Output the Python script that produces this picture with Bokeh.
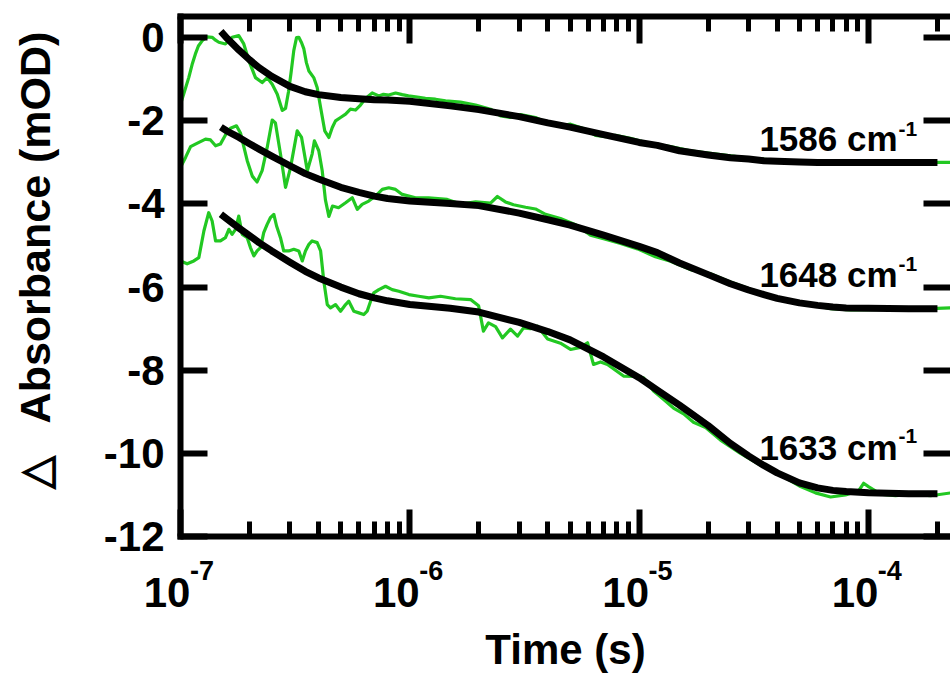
import numpy as np
from bokeh.plotting import figure
from bokeh.models import Range1d, FixedTicker, LogAxis, LinearAxis, Label
from bokeh.embed import file_html
from bokeh.resources import INLINE

# ---------------- data ----------------
# fitted curves (black): common time grid (s)
fit_time = [1.5e-7, 1.6e-7, 1.8e-7, 2e-7, 2.2e-7, 2.5e-7, 3e-7, 3.5e-7, 4e-7, 5e-7,
            6e-7, 7e-7, 8e-7, 1e-6, 1.5e-6, 2e-6, 3e-6, 4e-6, 5e-6, 7e-6,
            1e-5, 1.2e-5, 1.5e-5, 2e-5, 2.5e-5, 3e-5, 3.5e-5, 4e-5, 5e-5, 6e-5,
            7e-5, 8e-5, 1e-4, 1.5e-4, 2e-4]
fit_1586 = [0.15, -0.02, -0.30, -0.53, -0.72, -0.93, -1.17, -1.30, -1.37, -1.44,
            -1.47, -1.49, -1.50, -1.53, -1.64, -1.73, -1.90, -2.05, -2.15, -2.33,
            -2.52, -2.59, -2.72, -2.82, -2.89, -2.92, -2.96, -2.97, -2.99, -3.00,
            -3.00, -3.00, -3.00, -3.00, -3.00]
fit_1648 = [-2.15, -2.25, -2.40, -2.55, -2.68, -2.85, -3.08, -3.27, -3.40, -3.60,
            -3.72, -3.81, -3.87, -3.93, -3.99, -4.04, -4.22, -4.38, -4.51, -4.75,
            -5.02, -5.17, -5.42, -5.70, -5.92, -6.07, -6.18, -6.27, -6.38, -6.44,
            -6.48, -6.50, -6.51, -6.52, -6.52]
fit_1633 = [-4.25, -4.37, -4.58, -4.76, -4.93, -5.13, -5.40, -5.62, -5.78, -6.00,
            -6.16, -6.26, -6.33, -6.42, -6.51, -6.60, -6.85, -7.07, -7.27, -7.68,
            -8.18, -8.48, -8.84, -9.33, -9.76, -10.06, -10.29, -10.47, -10.71, -10.83,
            -10.89, -10.92, -10.95, -10.97, -10.97]

# measured traces (green): log10 of time (s) and absorbance (mOD)
trace_1586_logt = [-7.000, -6.983, -6.964, -6.948, -6.935, -6.922, -6.905, -6.884, -6.862, -6.847,
                   -6.833, -6.804, -6.775, -6.746, -6.724, -6.702, -6.673, -6.644, -6.622, -6.600,
                   -6.578, -6.556, -6.542, -6.529, -6.518, -6.506, -6.494, -6.484, -6.472, -6.462,
                   -6.451, -6.440, -6.419, -6.404, -6.389, -6.371, -6.353, -6.338, -6.324, -6.302,
                   -6.280, -6.259, -6.237, -6.215, -6.193, -6.164, -6.135, -6.115, -6.092, -6.062,
                   -6.033, -6.006, -5.975, -5.932, -5.888, -5.844, -5.779, -5.713, -5.648, -5.604,
                   -5.561, -5.517, -5.452, -5.386, -5.343, -5.299, -5.234, -5.190, -5.147, -5.103,
                   -5.038, -4.951, -4.863, -4.776, -4.689, -4.601, -4.514, -4.427, -4.340, -4.253,
                   -4.165, -4.078, -3.991, -3.904, -3.816, -3.729, -3.640]
trace_1586 = [-1.60, -1.30, -0.96, -0.62, -0.39, -0.20, -0.07, 0.02, 0.01, -0.06,
              -0.11, -0.15, 0.01, 0.05, -0.15, -0.55, -0.96, -1.08, -0.96, -1.12,
              -1.36, -1.75, -1.70, -1.30, -0.85, -0.31, 0.00, 0.01, -0.12, -0.27,
              -0.60, -0.80, -0.96, -1.20, -1.68, -2.24, -2.40, -2.16, -2.00, -1.92,
              -1.84, -1.72, -1.74, -1.62, -1.46, -1.33, -1.40, -1.36, -1.38, -1.33,
              -1.37, -1.40, -1.42, -1.46, -1.48, -1.52, -1.55, -1.62, -1.72, -1.88,
              -1.92, -1.85, -1.92, -2.08, -2.12, -2.08, -2.20, -2.35, -2.38, -2.35,
              -2.42, -2.55, -2.62, -2.72, -2.78, -2.84, -2.90, -2.94, -2.97, -2.99,
              -2.98, -3.01, -3.00, -2.99, -3.01, -3.00, -3.00]

trace_1648_logt = [-7.000, -6.978, -6.956, -6.935, -6.913, -6.891, -6.869, -6.847, -6.826, -6.804,
                   -6.782, -6.756, -6.738, -6.709, -6.687, -6.666, -6.644, -6.622, -6.600, -6.586,
                   -6.564, -6.542, -6.520, -6.491, -6.472, -6.447, -6.426, -6.416, -6.397, -6.382,
                   -6.368, -6.353, -6.337, -6.311, -6.280, -6.251, -6.229, -6.208, -6.179, -6.150,
                   -6.120, -6.092, -6.062, -6.033, -5.975, -5.918, -5.837, -5.779, -5.713, -5.648,
                   -5.618, -5.583, -5.548, -5.495, -5.452, -5.408, -5.343, -5.277, -5.212, -5.147,
                   -5.081, -5.007, -4.929, -4.863, -4.776, -4.689, -4.601, -4.514, -4.427, -4.340,
                   -4.253, -4.165, -4.078, -3.991, -3.904, -3.816, -3.729, -3.640]
trace_1648 = [-3.12, -2.88, -2.62, -2.56, -2.50, -2.44, -2.46, -2.60, -2.56, -2.34,
              -2.18, -2.12, -2.30, -2.96, -3.33, -3.47, -3.20, -2.64, -1.98, -2.05,
              -2.80, -3.60, -3.12, -2.24, -2.40, -3.20, -2.80, -2.48, -2.72, -3.20,
              -3.90, -4.30, -4.05, -4.09, -3.97, -3.85, -4.13, -4.01, -3.93, -3.81,
              -3.65, -3.61, -3.65, -3.77, -3.85, -3.85, -3.89, -4.00, -3.95, -3.98,
              -3.82, -3.95, -4.02, -4.08, -4.12, -4.25, -4.35, -4.50, -4.75, -4.85,
              -4.95, -5.08, -5.27, -5.38, -5.58, -5.68, -5.88, -6.05, -6.20, -6.35,
              -6.42, -6.52, -6.55, -6.54, -6.53, -6.50, -6.52, -6.50]

trace_1633_logt = [-7.000, -6.971, -6.942, -6.920, -6.898, -6.877, -6.862, -6.847, -6.826, -6.804,
                   -6.789, -6.775, -6.760, -6.746, -6.731, -6.709, -6.695, -6.680, -6.666, -6.651,
                   -6.637, -6.622, -6.608, -6.593, -6.581, -6.564, -6.550, -6.528, -6.506, -6.484,
                   -6.469, -6.455, -6.440, -6.426, -6.404, -6.389, -6.375, -6.360, -6.346, -6.324,
                   -6.302, -6.280, -6.266, -6.244, -6.222, -6.201, -6.186, -6.171, -6.157, -6.135,
                   -6.106, -6.077, -6.048, -6.004, -5.961, -5.917, -5.866, -5.801, -5.735, -5.700,
                   -5.679, -5.657, -5.626, -5.596, -5.561, -5.530, -5.504, -5.474, -5.443, -5.399,
                   -5.343, -5.299, -5.256, -5.225, -5.199, -5.168, -5.138, -5.103, -5.068, -5.016,
                   -4.981, -4.937, -4.894, -4.850, -4.806, -4.763, -4.710, -4.645, -4.558, -4.471,
                   -4.383, -4.296, -4.231, -4.165, -4.100, -4.043, -4.021, -4.000, -3.947, -3.882,
                   -3.816, -3.729, -3.640]
trace_1633 = [-5.37, -5.44, -5.37, -5.29, -4.65, -4.21, -4.41, -4.89, -4.89, -4.81,
              -4.61, -4.73, -4.61, -4.29, -4.73, -4.81, -5.05, -5.25, -5.13, -5.05,
              -4.69, -4.49, -4.33, -4.25, -4.53, -4.81, -5.13, -5.13, -5.09, -5.13,
              -5.37, -5.13, -4.97, -4.89, -4.93, -5.13, -5.86, -6.42, -6.50, -6.42,
              -6.58, -6.42, -6.34, -6.58, -6.62, -6.66, -6.58, -6.34, -6.14, -6.06,
              -5.98, -6.06, -6.10, -6.18, -6.22, -6.26, -6.22, -6.28, -6.30, -6.45,
              -7.06, -6.86, -6.95, -7.22, -7.01, -7.18, -6.98, -7.00, -6.94, -7.25,
              -7.35, -7.50, -7.45, -7.34, -7.86, -7.80, -7.86, -8.00, -8.14, -8.15,
              -8.18, -8.50, -8.70, -8.91, -9.05, -9.25, -9.38, -9.68, -10.00, -10.28,
              -10.52, -10.80, -10.95, -11.05, -11.00, -10.90, -10.72, -10.80, -10.98, -11.02,
              -10.98, -11.02, -10.95]

series_labels = ["1586 cm", "1648 cm", "1633 cm"]
y_ticks = [-12, -10, -8, -6, -4, -2, 0]
x_tick_exponents = [-7, -6, -5, -4]
x_title = "Time (s)"
y_title = "Absorbance (mOD)"

# ---------------- figure ----------------
FONT = "Liberation Sans"
GREEN = "#22c822"
NB = "\u00a0"

p = figure(width=950, height=675, x_axis_type="log",
           x_range=Range1d(1e-7, 2.28e-4), y_range=Range1d(-12, 0.51),
           output_backend="svg", toolbar_location=None,
           min_border_left=180, min_border_right=0, min_border_top=16, min_border_bottom=139)
p.outline_line_color = None
p.grid.visible = False
p.background_fill_color = "white"
p.border_fill_color = "white"

x_major = [10.0 ** e for e in x_tick_exponents]
x_minor = [k * 10.0 ** e for e in x_tick_exponents for k in range(2, 10)]


def style_axis(ax):
    ax.axis_line_width = 6
    ax.axis_line_color = "black"
    ax.axis_line_cap = "square"
    ax.major_tick_in = 27
    ax.major_tick_out = 0
    ax.major_tick_line_width = 6
    ax.major_tick_line_color = "black"
    ax.minor_tick_in = 15
    ax.minor_tick_out = 0
    ax.minor_tick_line_width = 5
    ax.minor_tick_line_color = "black"
    ax.major_label_text_color = None
    ax.major_label_text_font_size = "1px"
    ax.major_label_standoff = 0


xb = p.below[0]
yl = p.left[0]

# bottom axis: frame line, ticks and the exponents of the tick labels
xb.ticker = FixedTicker(ticks=x_major, minor_ticks=x_minor)
style_axis(xb)
xb.major_label_text_color = "black"
xb.major_label_text_font = FONT
xb.major_label_text_font_style = "bold"
xb.major_label_text_font_size = "27px"
xb.major_label_standoff = 19
xb.major_label_overrides = {t: NB * 5 + "\u2009" + str(e) for t, e in zip(x_major, x_tick_exponents)}

# second bottom axis: the "10" bases of the tick labels and the axis title
xb2 = LogAxis(ticker=FixedTicker(ticks=x_major, minor_ticks=[]))
xb2.axis_line_color = None
xb2.major_tick_line_color = None
xb2.minor_tick_line_color = None
xb2.major_tick_in = 0
xb2.major_tick_out = 0
xb2.minor_tick_in = 0
xb2.minor_tick_out = 0
xb2.major_label_text_color = "black"
xb2.major_label_text_font = FONT
xb2.major_label_text_font_style = "bold"
xb2.major_label_text_font_size = "42px"
xb2.major_label_standoff = -20
xb2.major_label_overrides = {t: "10" + NB * 2 + "\u200a" for t in x_major}
xb2.axis_label = x_title
xb2.axis_label_text_font = FONT
xb2.axis_label_text_font_style = "bold"
xb2.axis_label_text_font_size = "42px"
xb2.axis_label_text_color = "black"
xb2.axis_label_standoff = 7
p.add_layout(xb2, "below")

xt = LogAxis(ticker=FixedTicker(ticks=x_major, minor_ticks=x_minor))
style_axis(xt)
p.add_layout(xt, "above")

yl.ticker = FixedTicker(ticks=y_ticks, minor_ticks=[])
style_axis(yl)
yl.major_label_text_color = "black"
yl.major_label_text_font = FONT
yl.major_label_text_font_style = "bold"
yl.major_label_text_font_size = "42px"
yl.major_label_standoff = 16
yl.major_label_overrides = {v: str(v) for v in y_ticks}
yl.axis_label = NB * 2 + "\u2009" + "\u25b3" + NB * 2 + "\u2009" + y_title
yl.axis_label_text_font = FONT
yl.axis_label_text_font_style = "bold"
yl.axis_label_text_font_size = "43px"
yl.axis_label_text_color = "black"
yl.axis_label_standoff = 42

yr = LinearAxis(ticker=FixedTicker(ticks=y_ticks, minor_ticks=[]))
style_axis(yr)
yr.axis_line_color = None
p.add_layout(yr, "right")

# ---------------- data lines ----------------
traces = [(trace_1586_logt, trace_1586), (trace_1648_logt, trace_1648), (trace_1633_logt, trace_1633)]
for logt, vals in traces:
    p.line(x=10.0 ** np.array(logt), y=vals, line_color=GREEN, line_width=3.2, line_join="round")

for fit in (fit_1586, fit_1648, fit_1633):
    p.line(x=fit_time, y=fit, line_color="black", line_width=7, line_join="round")

# ---------------- series labels ----------------
lab_x = 1.34e-4
lab_main_y = [-2.43, -5.69, -9.86]
lab_sup_y = [-2.19, -5.45, -9.59]
for txt, ym, ys in zip(series_labels, lab_main_y, lab_sup_y):
    p.add_layout(Label(x=lab_x, y=ym, text=txt, text_align="right", text_baseline="alphabetic",
                       text_font=FONT, text_font_style="bold", text_font_size="35px", text_color="black"))
    p.add_layout(Label(x=lab_x, y=ys, text="-1", text_align="left", text_baseline="alphabetic",
                       x_offset=1, text_font=FONT, text_font_style="bold", text_font_size="21px",
                       text_color="black"))

open("out.html", "w").write(file_html(p, INLINE))
